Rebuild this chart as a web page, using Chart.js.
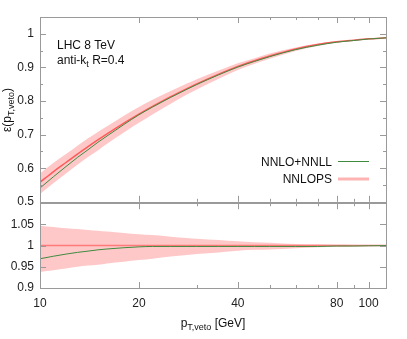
<!DOCTYPE html>
<html>
<head>
<meta charset="utf-8">
<script src="https://cdn.jsdelivr.net/npm/chart.js@4"></script>
<style>
  body { margin: 0; background: #fff; }
  #wrap { position: relative; width: 407px; height: 339px; }
  canvas { position: absolute; left: 0; }
  #effChart { top: 0; }
  #ratioChart { top: 190px; }
</style>
</head>
<body>
<div id="wrap">
  <canvas id="effChart" width="407" height="215"></canvas>
  <canvas id="ratioChart" width="407" height="149"></canvas>
</div>
<script>
// values
const ptVeto = [10, 11, 12, 13, 14, 15, 16, 18, 20, 22, 25, 28, 30, 35, 40, 45, 50, 60, 70, 80, 90, 100, 113];

const nnlopsCentral = [0.558, 0.590, 0.617, 0.642, 0.664, 0.684, 0.702, 0.734, 0.761, 0.784, 0.813, 0.837, 0.851, 0.880, 0.903, 0.920, 0.934, 0.955, 0.968, 0.976, 0.981, 0.985, 0.988];
const nnlopsUp = [0.584, 0.616, 0.642, 0.667, 0.689, 0.708, 0.725, 0.756, 0.782, 0.804, 0.830, 0.852, 0.865, 0.891, 0.912, 0.927, 0.941, 0.959, 0.971, 0.978, 0.9825, 0.986, 0.9885];
const nnlopsDown = [0.523, 0.556, 0.584, 0.610, 0.633, 0.653, 0.673, 0.706, 0.735, 0.760, 0.792, 0.819, 0.834, 0.866, 0.892, 0.911, 0.926, 0.949, 0.964, 0.973, 0.979, 0.984, 0.9875];
const nnloNnll = [0.541, 0.575, 0.605, 0.632, 0.655, 0.677, 0.696, 0.730, 0.759, 0.782, 0.811, 0.835, 0.849, 0.878, 0.901, 0.918, 0.932, 0.953, 0.966, 0.975, 0.980, 0.9845, 0.988];

const ratioNnlops = [1, 1, 1, 1, 1, 1, 1, 1, 1, 1, 1, 1, 1, 1, 1, 1, 1, 1, 1, 1, 1, 1, 1];
const ratioUp = [1.047, 1.044, 1.041, 1.039, 1.037, 1.035, 1.033, 1.030, 1.027, 1.025, 1.021, 1.018, 1.016, 1.013, 1.010, 1.008, 1.007, 1.004, 1.003, 1.002, 1.0015, 1.001, 1.0005];
const ratioDown = [0.938, 0.942, 0.946, 0.950, 0.953, 0.955, 0.958, 0.962, 0.966, 0.969, 0.974, 0.978, 0.980, 0.984, 0.988, 0.990, 0.991, 0.994, 0.996, 0.997, 0.998, 0.999, 0.9995];
const ratioNnloNnll = [0.969, 0.975, 0.980, 0.984, 0.987, 0.990, 0.992, 0.995, 0.997, 0.998, 0.998, 0.998, 0.998, 0.998, 0.998, 0.998, 0.998, 0.998, 0.998, 0.999, 0.999, 0.9995, 1.0];

const xMajorTicks = [10, 20, 40, 80, 100];
const xMinorTicks = [30, 50, 60, 70, 90];
const effMajorTicks = [0.5, 0.6, 0.7, 0.8, 0.9, 1.0];
const effMinorTicks = [0.55, 0.65, 0.75, 0.85, 0.95, 1.05];
const ratioMajorTicks = [0.9, 0.95, 1, 1.05];

const GREEN = "#3f8a3f";
const RED = "#ff5a5a";
const BAND = "rgb(255,200,200)";
const FRAME = "#9a9a9a";
const FONT = "'Liberation Sans', Arial, sans-serif";

Chart.defaults.font.family = FONT;
Chart.defaults.font.size = 12;
Chart.defaults.color = "#222";

const pts = (ys) => ptVeto.map((x, i) => ({ x, y: ys[i] }));

// text with subscripts: parts = [[text, isSub], ...]
function drawRich(ctx, parts, x, y, align) {
  let w = 0;
  parts.forEach(([t, sub]) => {
    ctx.font = (sub ? 9 : 12) + "px " + FONT;
    w += ctx.measureText(t).width;
  });
  let cx = align === "center" ? x - w / 2 : align === "right" ? x - w : x;
  ctx.textAlign = "left";
  ctx.textBaseline = "alphabetic";
  parts.forEach(([t, sub]) => {
    ctx.font = (sub ? 9 : 12) + "px " + FONT;
    ctx.fillText(t, cx, sub ? y + 3 : y);
    cx += ctx.measureText(t).width;
  });
}

// gnuplot style frame with ticks pointing inwards
const framePlugin = {
  id: "frame",
  afterDraw(chart, args, opts) {
    const { ctx, chartArea: a, scales } = chart;
    ctx.save();
    ctx.strokeStyle = FRAME;
    ctx.lineWidth = 1;
    ctx.strokeRect(Math.round(a.left) + 0.5, Math.round(a.top) + 0.5,
      Math.round(a.right - a.left), Math.round(a.bottom - a.top));
    ctx.beginPath();
    const xTick = (v, len) => {
      const px = Math.round(scales.x.getPixelForValue(v)) + 0.5;
      ctx.moveTo(px, a.bottom); ctx.lineTo(px, a.bottom - len);
      ctx.moveTo(px, a.top); ctx.lineTo(px, a.top + len);
    };
    const yTick = (v, len) => {
      const py = Math.round(scales.y.getPixelForValue(v)) + 0.5;
      ctx.moveTo(a.left, py); ctx.lineTo(a.left + len, py);
      ctx.moveTo(a.right, py); ctx.lineTo(a.right - len, py);
    };
    xMajorTicks.forEach((v) => xTick(v, 6));
    xMinorTicks.forEach((v) => xTick(v, 3));
    opts.yMajor.forEach((v) => yTick(v, 6));
    opts.yMinor.forEach((v) => yTick(v, 3));
    ctx.stroke();
    ctx.restore();
  },
};

const textPlugin = {
  id: "texts",
  afterDraw(chart, args, opts) {
    const ctx = chart.ctx;
    ctx.save();
    ctx.fillStyle = "#111";
    opts.draw(ctx, chart);
    ctx.restore();
  },
};

function xScale(showLabels) {
  return {
    type: "logarithmic",
    min: 10,
    max: 113,
    display: showLabels,
    afterBuildTicks: (s) => {
      s.ticks = xMajorTicks.map((v) => ({ value: v }));
    },
    afterFit: (s) => { s.height = showLabels ? 51 : 0; },
    grid: { display: false, drawTicks: false },
    border: { display: false },
    ticks: {
      autoSkip: false,
      maxRotation: 0,
      padding: 8,
      callback: (v) => String(v),
    },
  };
}

function yScale(min, max, ticks, label) {
  return {
    min,
    max,
    afterBuildTicks: (s) => {
      s.ticks = ticks.map((v) => ({ value: v }));
    },
    afterFit: (s) => { s.width = 40; },
    grid: { display: false, drawTicks: false },
    border: { display: false },
    ticks: { padding: 6, callback: label },
  };
}

const lineStyle = { pointRadius: 0, fill: false, cubicInterpolationMode: "monotone" };

new Chart(document.getElementById("effChart"), {
  type: "line",
  data: {
    datasets: [
      { ...lineStyle, label: "NNLO+NNLL", data: pts(nnloNnll), borderColor: GREEN, borderWidth: 1 },
      { ...lineStyle, label: "NNLOPS", data: pts(nnlopsCentral), borderColor: RED, borderWidth: 1.5 },
      { ...lineStyle, label: "NNLOPS up", data: pts(nnlopsUp), borderWidth: 0, borderColor: BAND, backgroundColor: BAND, fill: "+1" },
      { ...lineStyle, label: "NNLOPS down", data: pts(nnlopsDown), borderWidth: 0, borderColor: BAND },
    ],
  },
  options: {
    responsive: false,
    animation: false,
    layout: { padding: { top: 17, right: 21, bottom: 12, left: 0 } },
    scales: {
      x: xScale(false),
      y: yScale(0.5, 1.05, effMajorTicks, (v) => String(Math.round(v * 10) / 10)),
    },
    plugins: {
      legend: { display: false },
      tooltip: { enabled: false },
      frame: { yMajor: effMajorTicks, yMinor: effMinorTicks },
      texts: {
        draw: (ctx) => {
          drawRich(ctx, [["LHC 8 TeV", false]], 57, 49, "left");
          drawRich(ctx, [["anti-k", false], ["t", true], [" R=0.4", false]], 57, 64, "left");
          // legend
          drawRich(ctx, [["NNLO+NNLL", false]], 332, 166, "right");
          drawRich(ctx, [["NNLOPS", false]], 332, 183, "right");
          ctx.lineWidth = 1;
          ctx.strokeStyle = GREEN;
          ctx.beginPath(); ctx.moveTo(338, 161.5); ctx.lineTo(369, 161.5); ctx.stroke();
          ctx.lineWidth = 3;
          ctx.strokeStyle = "#ffb4b4";
          ctx.beginPath(); ctx.moveTo(338, 179); ctx.lineTo(369, 179); ctx.stroke();
          // y axis title
          ctx.translate(11, 110);
          ctx.rotate(-Math.PI / 2);
          drawRich(ctx, [["\u03b5(p", false], ["T,veto", true], [")", false]], 0, 0, "center");
        },
      },
    },
  },
  plugins: [framePlugin, textPlugin],
});

new Chart(document.getElementById("ratioChart"), {
  type: "line",
  data: {
    datasets: [
      { ...lineStyle, label: "NNLO+NNLL", data: pts(ratioNnloNnll), borderColor: GREEN, borderWidth: 1 },
      { ...lineStyle, label: "NNLOPS", data: pts(ratioNnlops), borderColor: "#ff7a7a", borderWidth: 1.5 },
      { ...lineStyle, label: "band up", data: pts(ratioUp), borderWidth: 0, borderColor: BAND, backgroundColor: BAND, fill: "+1" },
      { ...lineStyle, label: "band down", data: pts(ratioDown), borderWidth: 0, borderColor: BAND },
    ],
  },
  options: {
    responsive: false,
    animation: false,
    layout: { padding: { top: 13, right: 21, bottom: 0, left: 0 } },
    scales: {
      x: xScale(true),
      y: yScale(0.9, 1.1, ratioMajorTicks, (v) => String(v)),
    },
    plugins: {
      legend: { display: false },
      tooltip: { enabled: false },
      frame: { yMajor: ratioMajorTicks, yMinor: [] },
      texts: {
        draw: (ctx, chart) => {
          const a = chart.chartArea;
          drawRich(ctx, [["p", false], ["T,veto", true], [" [GeV]", false]], (a.left + a.right) / 2, 137, "center");
        },
      },
    },
  },
  plugins: [framePlugin, textPlugin],
});
</script>
</body>
</html>
